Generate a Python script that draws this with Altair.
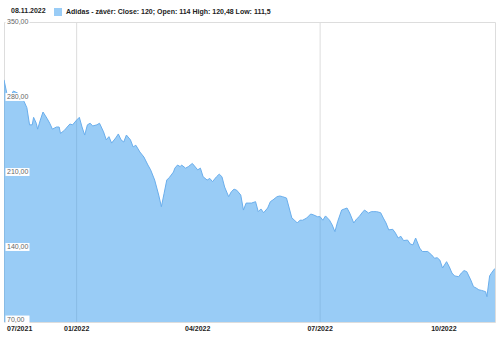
import altair as alt
import pandas as pd

# ---- data ----
dates = [
    "2021-11-08", "2021-11-10", "2021-11-11", "2021-11-15", "2021-11-18", "2021-11-21",
    "2021-11-23", "2021-11-25", "2021-11-27", "2021-11-29", "2021-11-30", "2021-12-02",
    "2021-12-03", "2021-12-05", "2021-12-07", "2021-12-10", "2021-12-12", "2021-12-14",
    "2021-12-17", "2021-12-19", "2021-12-20", "2021-12-23", "2021-12-25", "2021-12-27",
    "2021-12-29", "2022-01-01", "2022-01-03", "2022-01-05", "2022-01-07", "2022-01-09",
    "2022-01-11", "2022-01-13", "2022-01-16", "2022-01-18", "2022-01-21", "2022-01-23",
    "2022-01-25", "2022-01-27", "2022-01-30", "2022-02-01", "2022-02-03", "2022-02-05",
    "2022-02-07", "2022-02-10", "2022-02-12", "2022-02-14", "2022-02-17", "2022-02-20",
    "2022-02-23", "2022-02-25", "2022-02-28", "2022-03-03", "2022-03-05", "2022-03-07",
    "2022-03-09", "2022-03-11", "2022-03-14", "2022-03-15", "2022-03-17", "2022-03-19",
    "2022-03-20", "2022-03-23", "2022-03-25", "2022-03-28", "2022-03-29", "2022-04-01",
    "2022-04-03", "2022-04-05", "2022-04-08", "2022-04-10", "2022-04-12", "2022-04-15",
    "2022-04-17", "2022-04-19", "2022-04-21", "2022-04-24", "2022-04-26", "2022-04-28",
    "2022-04-30", "2022-05-03", "2022-05-05", "2022-05-07", "2022-05-09", "2022-05-11",
    "2022-05-14", "2022-05-16", "2022-05-18", "2022-05-20", "2022-05-23", "2022-05-25",
    "2022-05-27", "2022-05-30", "2022-06-01", "2022-06-03", "2022-06-06", "2022-06-08",
    "2022-06-10", "2022-06-12", "2022-06-14", "2022-06-16", "2022-06-18", "2022-06-21",
    "2022-06-24", "2022-06-26", "2022-06-29", "2022-07-01", "2022-07-03", "2022-07-05",
    "2022-07-08", "2022-07-10", "2022-07-12", "2022-07-14", "2022-07-17", "2022-07-19",
    "2022-07-21", "2022-07-23", "2022-07-26", "2022-07-28", "2022-07-30", "2022-08-01",
    "2022-08-03", "2022-08-06", "2022-08-08", "2022-08-10", "2022-08-12", "2022-08-15",
    "2022-08-17", "2022-08-19", "2022-08-21", "2022-08-24", "2022-08-26", "2022-08-28",
    "2022-08-30", "2022-09-01", "2022-09-04", "2022-09-06", "2022-09-08", "2022-09-10",
    "2022-09-13", "2022-09-15", "2022-09-17", "2022-09-19", "2022-09-22", "2022-09-24",
    "2022-09-26", "2022-09-28", "2022-09-30", "2022-10-03", "2022-10-05", "2022-10-07",
    "2022-10-09", "2022-10-12", "2022-10-14", "2022-10-16", "2022-10-18", "2022-10-21",
    "2022-10-23", "2022-10-25", "2022-10-27", "2022-10-29", "2022-11-01", "2022-11-02",
    "2022-11-04", "2022-11-05", "2022-11-07", "2022-11-08",
]
close = [
    296, 284, 277, 285.6, 283.7, 282,
    275.6, 270, 254, 254, 261, 255.5,
    250, 258.5, 266, 260, 255.5, 250,
    252, 252, 246, 249, 252, 254.8,
    254, 258.5, 261, 252, 244.5, 254,
    255.5, 253, 254, 255.5, 247.5, 240,
    243, 237, 241.7, 245.5, 240, 238,
    244.5, 240, 233.4, 235, 228.7, 224,
    216.5, 212, 202.5, 188.5, 177.6, 190,
    202.5, 205, 210, 213.6, 216.5, 215,
    216.5, 213.6, 215, 218, 216.5, 212,
    213.6, 205.6, 202.5, 204, 201, 205.6,
    208, 205.6, 196, 187, 191.6, 194,
    193, 188.5, 174.5, 181, 181, 181,
    182.3, 173, 175.5, 172, 176.4, 182.3,
    184, 187, 187.6, 187, 185.7, 176.4,
    167, 165, 162.4, 165, 165, 167,
    170.8, 170, 168.3, 168.3, 165, 169,
    165, 160.5, 154.3, 163.6, 174.5, 175.5,
    176.4, 171.7, 162.4, 166, 168.3, 171.7,
    174.5, 171.7, 173, 173, 173, 172,
    167, 162.4, 156, 156.5, 153, 148.4,
    150, 146, 146.5, 142.8, 142, 148.4,
    139, 135.8, 135.8, 135.8, 132.5, 129.5,
    130, 127.8, 120.4, 126.3, 121.6, 115.7,
    113, 112.3, 115.7, 118, 117, 109.2,
    103, 101.7, 100, 99.5, 98.3, 93.6,
    113, 115, 118.5, 120,
]
series_name = "Adidas - závěr: Close: 120; Open: 114 High: 120,48 Low: 111,5"
title_date = "08.11.2022"
y_ticks = [70, 140, 210, 280, 350]
x_grid_dates = ["2022-01-01", "2022-07-01"]
x_label_dates = ["2021-11-08", "2022-01-01", "2022-04-01", "2022-07-01", "2022-10-01"]
x_label_texts = ["07/2021", "01/2022", "04/2022", "07/2022", "10/2022"]

FONT = "Liberation Sans"

df = pd.DataFrame({"date": dates, "close": close, "series": series_name})
ticks_df = pd.DataFrame({"v": y_ticks})
grid_df = pd.DataFrame({"d": x_grid_dates})
xlab_df = pd.DataFrame({"d": x_label_dates, "lab": x_label_texts,
                        "first": [i == 0 for i in range(len(x_label_dates))]})
title_df = pd.DataFrame({"t": [title_date]})

x_domain = [alt.DateTime(year=2021, month=11, date=8, utc=True),
            alt.DateTime(year=2022, month=11, date=8, utc=True)]

x_scale = alt.Scale(type="utc", domain=x_domain, nice=False)
y_scale = alt.Scale(domain=[70, 350], nice=False, zero=False)

vgrid = alt.Chart(grid_df).mark_rule(color="#dddddd", strokeWidth=1).encode(
    x=alt.X("d:T", scale=x_scale, axis=None)
)

area = alt.Chart(df).mark_area(
    color="#3399ee", fillOpacity=0.5, clip=True,
    line=alt.OverlayMarkDef(color="#6aaeec", strokeWidth=1),
).encode(
    x=alt.X("date:T", scale=x_scale, axis=None),
    y=alt.Y("close:Q", scale=y_scale, title=None,
            axis=alt.Axis(values=y_ticks, grid=True, gridColor="#dddddd", labels=False,
                          ticks=False, domain=False)),
)

legend_layer = alt.Chart(df).mark_square(opacity=0).encode(
    x=alt.X("date:T", scale=x_scale, axis=None),
    y=alt.Y("close:Q", scale=y_scale),
    color=alt.Color("series:N", scale=alt.Scale(range=["#99ccf6"]),
                    legend=alt.Legend(orient="none", legendX=50, legendY=-14, title=None,
                                      labelFont=FONT, labelFontSize=7, labelFontWeight="bold",
                                      labelColor="#222222", symbolType="square", symbolSize=64,
                                      symbolOpacity=1, symbolStrokeWidth=0, labelOffset=4,
                                      padding=0, labelLimit=0)),
)


def tick_layers(flt, dy):
    base = alt.Chart(ticks_df).transform_filter(flt)
    box = base.mark_point(
        shape="M-1,-0.33L1,-0.33L1,0.33L-1,0.33Z", filled=True, color="white",
        opacity=1, size=576, yOffset=dy,
    ).encode(
        x=alt.value(13.5),
        y=alt.Y("v:Q", scale=y_scale, axis=None),
    )
    txt = base.transform_calculate(
        lab="replace(format(datum.v, '.2f'), '.', ',')"
    ).mark_text(align="left", baseline="middle", font=FONT, fontSize=7,
                color="#666666", dy=dy).encode(
        x=alt.value(3),
        y=alt.Y("v:Q", scale=y_scale, axis=None),
        text="lab:N",
    )
    return [box, txt]


upper = tick_layers(alt.datum.v > 70, 0)
lower = tick_layers(alt.datum.v <= 70, -2.5)

xlab_first = alt.Chart(xlab_df).transform_filter(alt.datum.first).mark_text(
    align="left", baseline="middle", font=FONT, fontSize=7, fontWeight="bold",
    color="#222222", dx=3,
).encode(x=alt.X("d:T", scale=x_scale, axis=None), y=alt.value(307), text="lab:N")

xlab_rest = alt.Chart(xlab_df).transform_filter(~alt.datum.first).mark_text(
    align="center", baseline="middle", font=FONT, fontSize=7, fontWeight="bold",
    color="#222222",
).encode(x=alt.X("d:T", scale=x_scale, axis=None), y=alt.value(307), text="lab:N")

title_txt = alt.Chart(title_df).mark_text(
    align="left", baseline="middle", font=FONT, fontSize=7, fontWeight="bold",
    color="#222222",
).encode(x=alt.value(7), y=alt.value(-11), text="t:N")

chart = alt.layer(vgrid, area, legend_layer, *upper, *lower,
                  xlab_first, xlab_rest, title_txt).properties(
    width=491, height=300,
    autosize=alt.AutoSizeParams(type="none"),
    padding={"left": 4, "top": 22, "right": 5, "bottom": 16},
).configure_view(stroke="#dddddd").configure(background="white")

chart.save("out.html", embed_options={"renderer": "svg", "actions": False})
